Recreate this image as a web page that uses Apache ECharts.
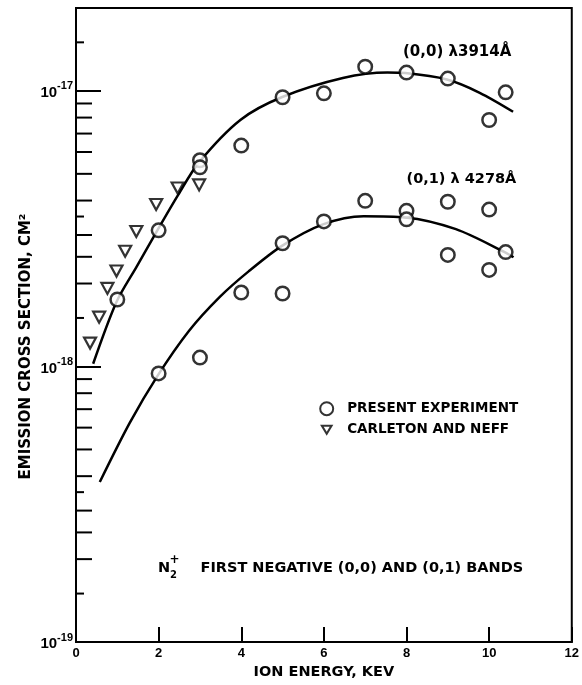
<!DOCTYPE html>
<html><head><meta charset="utf-8">
<script src="https://cdn.jsdelivr.net/npm/echarts@6/dist/echarts.min.js"></script>
<style>html,body{margin:0;padding:0;background:#fff}#c{width:582px;height:685px}</style>
</head><body><div id="c"></div>
<script>
// ---- data ----
const energyTicks = [0, 2, 4, 6, 8, 10, 12];
const yDecades = [1e-19, 1e-18, 1e-17];
const yMin = 1e-19, yMax = 2e-17;
const minorMantissas = [1.5, 2, 2.5, 3, 3.5, 4, 5, 6, 7, 8, 9];
const shortMantissas = [1.5, 3.5];

// (0,0) band, present experiment
const band00_x = [1, 2, 3, 3, 4, 5, 6, 7, 8, 9, 10, 10.4];
const band00_y = [1.75e-18, 3.12e-18, 5.60e-18, 5.28e-18, 6.33e-18, 9.48e-18, 9.80e-18, 1.224e-17, 1.165e-17, 1.108e-17, 7.84e-18, 9.88e-18];
// (0,1) band, present experiment
const band01_x = [2, 3, 4, 5, 5, 6, 7, 8, 8, 9, 9, 10, 10, 10.4];
const band01_y = [9.44e-19, 1.077e-18, 1.855e-18, 1.84e-18, 2.80e-18, 3.36e-18, 3.99e-18, 3.67e-18, 3.42e-18, 3.96e-18, 2.54e-18, 3.71e-18, 2.24e-18, 2.60e-18];
// Carleton and Neff
const carleton_x = [0.34, 0.56, 0.76, 0.98, 1.19, 1.46, 1.94, 2.46, 2.98];
const carleton_y = [1.216e-18, 1.51e-18, 1.92e-18, 2.22e-18, 2.62e-18, 3.09e-18, 3.87e-18, 4.44e-18, 4.56e-18];
// fitted curves
const fit00_x = [0.415, 0.977, 1.465, 1.969, 2.473, 2.977, 3.978, 4.977, 6.459, 7.539, 7.971, 8.98, 9.772, 10.58];
const fit00_y = [1.023e-18, 1.711e-18, 2.298e-18, 3.118e-18, 4.195e-18, 5.503e-18, 7.842e-18, 9.48e-18, 1.113e-17, 1.165e-17, 1.160e-17, 1.099e-17, 9.84e-18, 8.40e-18];
const fit01_x = [0.576, 1.297, 1.969, 2.737, 3.481, 4.178, 4.994, 5.978, 6.963, 7.971, 9.196, 10.42, 10.59];
const fit01_y = [3.81e-19, 6.23e-19, 9.23e-19, 1.348e-18, 1.789e-18, 2.214e-18, 2.746e-18, 3.28e-18, 3.51e-18, 3.475e-18, 3.15e-18, 2.58e-18, 2.49e-18];

const legendNames = ['PRESENT EXPERIMENT', 'CARLETON AND NEFF'];
const yTitle = 'EMISSION CROSS SECTION, CM\u00B2';
const xTitle = 'ION ENERGY, KEV';
const label00 = '(0,0) \u03BB3914\u00C5';
const label01 = '(0,1) \u03BB 4278\u00C5';
const noteText = 'FIRST NEGATIVE (0,0) AND (0,1) BANDS';

// ---- chart ----
const FONT = '"DejaVu Sans", sans-serif';
const TFONT = '"Liberation Sans", Arial, sans-serif';
const zip = (xs, ys) => xs.map((x, i) => [x, ys[i]]);

const minorTickData = [];
yDecades.forEach(d => minorMantissas.forEach(m => {
  const v = d * m;
  if (v < yMax) minorTickData.push([0, v, shortMantissas.indexOf(m) >= 0 ? 8 : 16]);
}));

const circleStyle = { color: '#fff', borderColor: '#000', borderWidth: 2.5 };
const triStyle = { color: '#fff', borderColor: '#000', borderWidth: 2.2 };

const chart = echarts.init(document.getElementById('c'));
chart.setOption({
  animation: false,
  backgroundColor: '#fff',
  grid: { left: 76, right: 6, top: 7.9, bottom: 34, show: true, borderColor: '#000', borderWidth: 2, backgroundColor: 'transparent' },
  xAxis: {
    type: 'value', min: energyTicks[0], max: energyTicks[energyTicks.length - 1], interval: 2,
    axisLine: { show: true, lineStyle: { color: '#000', width: 2 } },
    axisTick: { show: true, inside: true, length: 15, lineStyle: { color: '#000', width: 2 } },
    axisLabel: { color: '#000', fontFamily: TFONT, fontWeight: 'bold', fontSize: 13, margin: 5,
      formatter: v => energyTicks.indexOf(v) >= 0 ? String(v) : '' },
    splitLine: { show: false },
    name: xTitle, nameLocation: 'middle', nameGap: 18,
    nameTextStyle: { color: '#000', fontFamily: FONT, fontWeight: 'bold', fontSize: 14.5 }
  },
  yAxis: {
    type: 'log', logBase: 10, min: yMin, max: yMax,
    axisLine: { show: true, lineStyle: { color: '#000', width: 2 } },
    axisTick: { show: true, inside: true, length: 25, lineStyle: { color: '#000', width: 2 } },
    axisLabel: {
      margin: 3,
      formatter: v => {
        const l = Math.log10(v), e = Math.round(l);
        if (Math.abs(l - e) > 1e-6) return '';
        return '{b|10}{s|' + e + '}';
      },
      rich: {
        b: { fontFamily: TFONT, fontWeight: 'bold', fontSize: 15, color: '#000', padding: [4, 0, 0, 0] },
        s: { fontFamily: TFONT, fontWeight: 'bold', fontSize: 11, color: '#000', padding: [0, 0, 9, 0] }
      }
    },
    splitLine: { show: false }
  },
  legend: {
    data: [
      { name: legendNames[0], icon: 'circle' },
      { name: legendNames[1], icon: 'path://M-1.5,-3M0,0L12,0L6,10ZM13.5,13' }
    ],
    orient: 'vertical', left: 314.2, top: 396.2,
    itemWidth: 13, itemHeight: 13, itemGap: 6,
    textStyle: { color: '#000', fontFamily: FONT, fontWeight: 'bold', fontSize: 13.5, padding: [0, 0, 0, 9] },
    selectedMode: false
  },
  graphic: [
    { type: 'text', x: 26, y: 346.5, rotation: Math.PI / 2,
      style: { text: yTitle, font: 'bold 15px ' + FONT, fill: '#000', align: 'center', verticalAlign: 'middle' } },
    { type: 'text', x: 403, y: 52,
      style: { text: label00, font: 'bold 15px ' + FONT, fill: '#000', align: 'left', verticalAlign: 'middle' } },
    { type: 'text', x: 406.5, y: 179,
      style: { text: label01, font: 'bold 14.5px ' + FONT, fill: '#000', align: 'left', verticalAlign: 'middle' } },
    { type: 'text', x: 158, y: 568,
      style: { text: 'N', font: 'bold 14.5px ' + FONT, fill: '#000', align: 'left', verticalAlign: 'middle' } },
    { type: 'text', x: 170, y: 575,
      style: { text: '2', font: 'bold 10px ' + FONT, fill: '#000', align: 'left', verticalAlign: 'middle' } },
    { type: 'text', x: 169.5, y: 560,
      style: { text: '+', font: 'bold 12px ' + FONT, fill: '#000', align: 'left', verticalAlign: 'middle' } },
    { type: 'text', x: 200.5, y: 568,
      style: { text: noteText, font: 'bold 14.5px ' + FONT, fill: '#000', align: 'left', verticalAlign: 'middle' } }
  ],
  series: [
    { type: 'line', name: 'fit00', data: zip(fit00_x, fit00_y), smooth: 0.3, symbol: 'none', silent: true,
      lineStyle: { color: '#000', width: 2.5 }, z: 2 },
    { type: 'line', name: 'fit01', data: zip(fit01_x, fit01_y), smooth: 0.3, symbol: 'none', silent: true,
      lineStyle: { color: '#000', width: 2.5 }, z: 2 },
    { type: 'scatter', name: legendNames[0], data: zip(band00_x, band00_y), symbol: 'circle', symbolSize: 13.5,
      itemStyle: circleStyle, z: 3 },
    { type: 'scatter', name: legendNames[0], data: zip(band01_x, band01_y), symbol: 'circle', symbolSize: 13.5,
      itemStyle: circleStyle, z: 3 },
    { type: 'scatter', name: legendNames[1], data: zip(carleton_x, carleton_y), symbol: 'triangle', symbolRotate: 180,
      symbolSize: [12, 11], itemStyle: triStyle, z: 3 },
    { type: 'custom', name: 'minorTicks', data: minorTickData, silent: true, clip: false, z: 4,
      renderItem: (params, api) => {
        const p = api.coord([api.value(0), api.value(1)]);
        return { type: 'line', shape: { x1: p[0], y1: p[1], x2: p[0] + api.value(2), y2: p[1] },
          style: { stroke: '#000', lineWidth: 2 } };
      } }
  ]
});
</script>
</body></html>
